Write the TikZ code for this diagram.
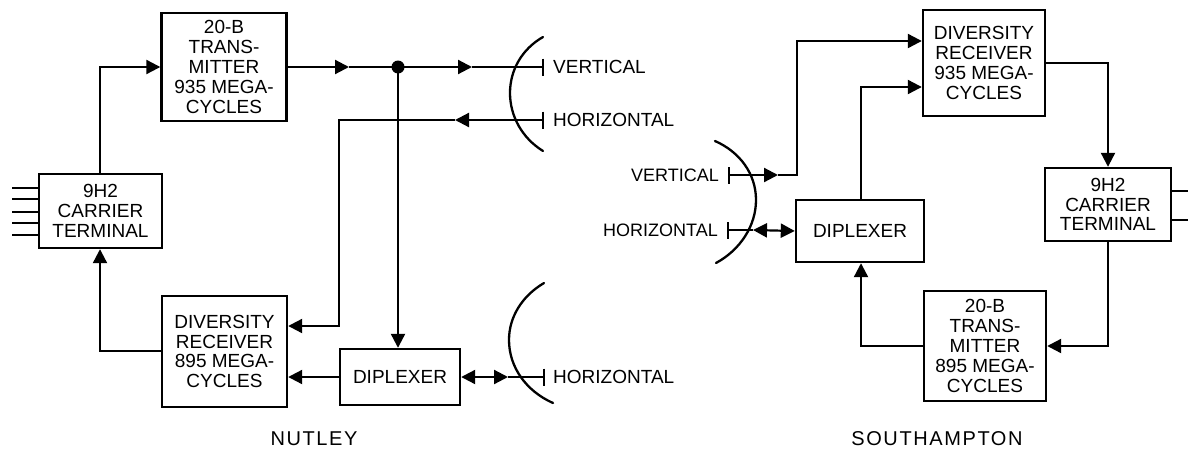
\documentclass[tikz,border=0pt]{standalone}
\usepackage{fontspec}
\setmainfont{Liberation Sans}
\usetikzlibrary{arrows.meta}
\tikzset{
  blockbox/.style={draw=black,line width=2.4pt,inner sep=0pt,align=center,font=\fontsize{19}{19.8}\selectfont},
  wire/.style={draw=black,line width=2.2pt},
  tipped/.style={wire,-{Triangle[length=14pt,width=14pt]}},
  tippedboth/.style={wire,{Triangle[length=14pt,width=14pt]}-{Triangle[length=14pt,width=14pt]}},
  feed/.style={wire,{Bar[width=17pt,line width=2.2pt]}-},
  feedtip/.style={wire,{Bar[width=17pt,line width=2.2pt]}-{Triangle[length=14pt,width=14pt]}},
  dish/.style={draw=black,line width=2.3pt,line cap=round},
  lbl/.style={inner sep=0pt,font=\fontsize{19}{20}\selectfont},
  lblsmall/.style={inner sep=0pt,font=\fontsize{18}{20}\selectfont},
  caption/.style={inner sep=0pt,font=\fontsize{20}{22}\selectfont\addfontfeature{LetterSpace=8}},
  stub/.style={wire,line width=2pt}
}
\newcommand{\blk}[6]{\node[blockbox,minimum width=#3 pt,minimum height=#4 pt] (#5) at (#1,#2) {#6};}
\begin{document}
\begin{tikzpicture}[x=1pt,y=-1pt]
\useasboundingbox (0,0) rectangle (1188,450);
% left station
\blk{224}{67}{125}{108}{txl}{20-B\\TRANS-\\MITTER\\935 MEGA-\\CYCLES}
\blk{100.5}{211}{123}{74}{cl}{9H2\\CARRIER\\TERMINAL}
\blk{224.5}{351.5}{125}{111}{rxl}{DIVERSITY\\RECEIVER\\895 MEGA-\\CYCLES}
\blk{400}{377}{120}{56}{dl}{DIPLEXER}
% right station
\blk{984}{63}{122}{106}{rxr}{DIVERSITY\\RECEIVER\\935 MEGA-\\CYCLES}
\blk{1108}{204.5}{126}{73}{cr}{9H2\\CARRIER\\TERMINAL}
\blk{985}{346}{122}{110}{txr}{20-B\\TRANS-\\MITTER\\895 MEGA-\\CYCLES}
\blk{860}{231}{128}{62}{dr}{DIPLEXER}
% labels
\node[lbl,anchor=west] (lv1) at (553,67) {VERTICAL};
\node[lbl,anchor=west] (lh1) at (553,120) {HORIZONTAL};
\node[lbl,anchor=west] (lh2) at (553,377) {HORIZONTAL};
\node[lblsmall,anchor=east] (lv3) at (719,175) {VERTICAL};
\node[lblsmall,anchor=east] (lh3) at (718,230) {HORIZONTAL};
\node[caption] (nut) at (314,439) {NUTLEY};
\node[caption] (sou) at (937,439) {SOUTHAMPTON};
% named points
\coordinate (j) at (398,67);
\coordinate (fv1) at (544,67);
\coordinate (fh1) at (544,120);
\coordinate (fh2) at (545,377);
\coordinate (fv3) at (728,175);
\coordinate (fh3) at (727,230);
\coordinate (a1) at (349,67);
\coordinate (a2) at (472,67);
\coordinate (a3) at (455,120);
\coordinate (c1) at (339,120);
\coordinate (c2) at (339,326);
\coordinate (a4) at (508,377);
\coordinate (a5) at (778,175);
\coordinate (c3) at (797,175);
\coordinate (c4) at (797,41);
\coordinate (a6) at (753,230);
\coordinate (c5) at (1108,63);
\coordinate (c6) at (100,351);
\coordinate (c7) at (861,346);
\coordinate (c8) at (861,87);
% left station connectors
\draw[tipped] (cl.north -| c6) -- (c6 |- txl.west) -- (txl.west);
\draw[tipped] (txl.east) -- (a1);
\draw[wire] (a1) -- (j);
\draw[tipped] (j) -- (a2);
\draw[feed] (fv1) -- (a2);
\fill (j) circle (6.5pt);
\draw[tipped] (j) -- (j |- dl.north);
\draw[feedtip] (fh1) -- (a3);
\draw[tipped] (a3) -- (c1) -- (c2) -- (rxl.east |- c2);
\draw[tipped] (dl.west) -- (rxl.east |- dl.west);
\draw[tipped] (rxl.west |- c6) -- (c6) -- (c6 |- cl.south);
\draw[tippedboth] (dl.east) -- (a4);
\draw[feed] (fh2) -- (a4);
\foreach \y in {188,199,212,223,235}{\draw[stub] (12,\y) -- (cl.west |- {0,\y});}
% right station connectors
\draw[feedtip] (fv3) -- (a5);
\draw[tipped] (a5) -- (c3) -- (c4) -- (rxr.west |- c4);
\draw[feed] (fh3) -- (a6);
\draw[tippedboth] (a6) -- (dr.west);
\draw[tipped] (dr.north -| c8) -- (c8) -- (rxr.west |- c8);
\draw[tipped] (rxr.east |- c5) -- (c5) -- (c5 |- cr.north);
\draw[tipped] (c5 |- cr.south) -- (c5 |- txr.east) -- (txr.east);
\draw[tipped] (txr.west |- c7) -- (c7) -- (c7 |- dr.south);
\draw[stub] (cr.east |- {0,191}) -- (1188,191);
\draw[stub] (cr.east |- {0,220}) -- (1188,220);
% dishes
\draw[dish] (543,37) .. controls (522,49) and (510,70) .. (510,93) .. controls (510,116) and (522,138) .. (543,151);
\draw[dish] (544,283) .. controls (522,296) and (509,317) .. (509,340) .. controls (509,367) and (526,391) .. (553,403);
\draw[dish] (715,141) .. controls (740,152) and (756,174) .. (756,200) .. controls (756,226) and (740,250) .. (716,263);
\end{tikzpicture}
\end{document}
